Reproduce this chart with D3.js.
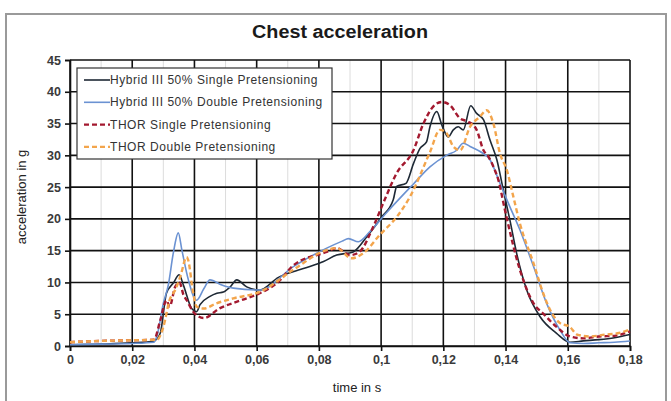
<!DOCTYPE html>
<html>
<head>
<meta charset="utf-8">
<script src="https://cdn.jsdelivr.net/npm/d3@7"></script>
<style>
  body { margin: 0; background: #fff; }
  svg { display: block; font-family: "Liberation Sans", Arial, sans-serif; }
</style>
</head>
<body>
<svg id="chart"></svg>
<script>
const width = 671,
    height = 401;
const margin = { top: 60, right: 41, bottom: 55, left: 70 };

// tick values
const xTicks = [0, 0.02, 0.04, 0.06, 0.08, 0.1, 0.12, 0.14, 0.16, 0.18];
const xMinor = [0.01, 0.03, 0.05, 0.07, 0.09, 0.11, 0.13, 0.15, 0.17];
const yTicks = [0, 5, 10, 15, 20, 25, 30, 35, 40, 45];

const seriesNames = [
    "Hybrid III 50% Single Pretensioning",
    "Hybrid III 50% Double Pretensioning",
    "THOR Single Pretensioning",
    "THOR Double Pretensioning",
];

// Hybrid III 50% single
const h3SingleT = [0, 0.01, 0.02, 0.027, 0.029, 0.031, 0.0332, 0.0351, 0.0365, 0.0391, 0.0407, 0.0418, 0.045, 0.0472, 0.0493, 0.0515, 0.0536, 0.0568, 0.061, 0.067, 0.0725, 0.0771, 0.0815, 0.0857, 0.091, 0.0954, 0.1002, 0.1039, 0.105, 0.108, 0.1104, 0.1125, 0.1146, 0.1157, 0.1179, 0.1195, 0.1216, 0.1232, 0.1248, 0.1264, 0.1288, 0.1307, 0.1329, 0.135, 0.1372, 0.1393, 0.1414, 0.1436, 0.1468, 0.1511, 0.1564, 0.1607, 0.165, 0.17, 0.175, 0.18];
const h3SingleA = [0.2, 0.3, 0.5, 0.8, 2, 8.3, 9.9, 11.2, 9.5, 5.9, 5.4, 6.5, 7.8, 8.3, 8.5, 9.3, 10.4, 9.3, 8.8, 10.8, 11.8, 12.5, 13.3, 14.3, 14.8, 17.2, 20.3, 23, 25.1, 25.6, 28.7, 31.1, 32.1, 34.5, 36.9, 34.8, 32.9, 34, 34.5, 34, 37.8, 36.6, 35.6, 32.4, 29.3, 24.5, 19.8, 14.5, 8.8, 4.6, 2, 0.6, 0.8, 1.0, 1.3, 1.8];

// Hybrid III 50% double
const h3DoubleT = [0, 0.01, 0.02, 0.027, 0.0279, 0.03, 0.0316, 0.0332, 0.0348, 0.036, 0.038, 0.0407, 0.043, 0.045, 0.0488, 0.0525, 0.061, 0.0718, 0.0825, 0.0875, 0.0895, 0.0927, 0.0964, 0.1018, 0.1104, 0.1157, 0.121, 0.1243, 0.1264, 0.1286, 0.1318, 0.135, 0.1382, 0.1414, 0.1446, 0.149, 0.1532, 0.1575, 0.1607, 0.165, 0.17, 0.175, 0.18];
const h3DoubleA = [0.2, 0.3, 0.4, 0.6, 1.5, 6.7, 9.6, 14.6, 17.8, 15, 10.5, 7.2, 9, 10.4, 9.6, 9.1, 8.8, 12.5, 15.4, 16.5, 16.9, 16.4, 18, 21, 25.5, 28.2, 30, 30.8, 31.9, 31.4, 30.6, 29.3, 25.6, 21.9, 18.3, 12.5, 6.7, 2.5, 0.5, 0.4, 0.5, 0.6, 0.8];

// THOR single
const thorSingleT = [0, 0.01, 0.02, 0.027, 0.029, 0.031, 0.032, 0.0338, 0.0352, 0.0365, 0.0375, 0.0396, 0.043, 0.048, 0.055, 0.061, 0.067, 0.0718, 0.0825, 0.0857, 0.09, 0.093, 0.0975, 0.1007, 0.105, 0.1104, 0.1136, 0.1168, 0.1195, 0.1221, 0.1254, 0.128, 0.1307, 0.1329, 0.1345, 0.1361, 0.1377, 0.1398, 0.1446, 0.149, 0.1521, 0.1564, 0.1607, 0.165, 0.17, 0.175, 0.18];
const thorSingleA = [0.6, 0.8, 0.9, 1.0, 4, 7.2, 6.2, 9.3, 10, 8, 7.2, 5.4, 4.4, 5.9, 7.2, 8.3, 10.1, 12.7, 14.8, 15.4, 14.3, 14.8, 18.8, 22.5, 27.2, 30.8, 35, 37.7, 38.4, 37.9, 35.8, 35.3, 34, 30.8, 29.8, 28.2, 26.1, 21.4, 12, 6.7, 5.1, 3, 1.5, 1.2, 1.5, 1.6, 2.3];

// THOR double
const thorDoubleT = [0, 0.01, 0.02, 0.028, 0.03, 0.032, 0.034, 0.0355, 0.0375, 0.038, 0.0396, 0.0407, 0.043, 0.047, 0.0525, 0.061, 0.0718, 0.0825, 0.0857, 0.0905, 0.0943, 0.0996, 0.105, 0.1093, 0.1157, 0.1189, 0.121, 0.1232, 0.1254, 0.1286, 0.1318, 0.1339, 0.1361, 0.1382, 0.1404, 0.1425, 0.1446, 0.149, 0.1521, 0.1543, 0.1575, 0.1607, 0.163, 0.167, 0.172, 0.176, 0.18];
const thorDoubleA = [0.6, 0.8, 0.9, 1.0, 3, 7.2, 9, 11, 14, 13.5, 8.3, 6.2, 5.9, 6.7, 7.5, 8.5, 12, 15.1, 15.4, 13.8, 14.6, 17.5, 20.3, 23.5, 30.5, 34, 33.5, 31.4, 30.8, 34.5, 36.1, 37.1, 35, 30.3, 27.7, 23.5, 19.3, 13, 8.3, 5.7, 3.6, 3, 1.8, 1.5, 1.8, 2, 2.6];

const seriesT = [h3SingleT, h3DoubleT, thorSingleT, thorDoubleT];
const seriesA = [h3SingleA, h3DoubleA, thorSingleA, thorDoubleA];
const colors = ["#1e2935", "#6b92d2", "#a3192f", "#f3a54c"];
const dashes = [null, null, "5,3", "5,3"];
const widths = [1.6, 1.6, 2.4, 2.4];

const svg = d3.select("#chart").attr("width", width).attr("height", height);

// outer chart frame
svg.append("rect")
    .attr("x", 6).attr("y", 14)
    .attr("width", 660).attr("height", 400)
    .attr("fill", "none")
    .attr("stroke", "#9a9a9a")
    .attr("stroke-width", 2);

const xScale = d3.scaleLinear().domain([0, 0.18]).range([margin.left, width - margin.right]);
const yScale = d3.scaleLinear().domain([0, 45]).range([height - margin.bottom, margin.top]);

// minor vertical gridlines
svg.append("g").selectAll("line")
    .data(xMinor)
    .enter()
    .append("line")
    .attr("x1", (d) => xScale(d)).attr("x2", (d) => xScale(d))
    .attr("y1", yScale(0)).attr("y2", yScale(45))
    .attr("stroke", "#dcdcdc")
    .attr("stroke-width", 1);

// major gridlines
svg.append("g").selectAll("line")
    .data(xTicks)
    .enter()
    .append("line")
    .attr("x1", (d) => xScale(d)).attr("x2", (d) => xScale(d))
    .attr("y1", yScale(0)).attr("y2", yScale(45))
    .attr("stroke", "#111")
    .attr("stroke-width", 1.6);

svg.append("g").selectAll("line")
    .data(yTicks)
    .enter()
    .append("line")
    .attr("x1", xScale(0)).attr("x2", xScale(0.18))
    .attr("y1", (d) => yScale(d)).attr("y2", (d) => yScale(d))
    .attr("stroke", "#111")
    .attr("stroke-width", 1.6);

// axes
const xAxis = d3.axisBottom(xScale)
    .tickValues(xTicks)
    .tickSize(5)
    .tickPadding(4)
    .tickFormat((d) => String(d).replace(".", ","));
const yAxis = d3.axisLeft(yScale)
    .tickValues(yTicks)
    .tickSize(5)
    .tickPadding(4);

const gx = svg.append("g")
    .attr("transform", `translate(0, ${height - margin.bottom})`)
    .call(xAxis);
const gy = svg.append("g")
    .attr("transform", `translate(${margin.left}, 0)`)
    .call(yAxis);

[gx, gy].forEach((g) => {
    g.select(".domain").attr("stroke", "#111").attr("stroke-width", 1.6);
    g.selectAll(".tick line").attr("stroke", "#111").attr("stroke-width", 1.6);
    g.selectAll(".tick text")
        .attr("fill", "#3a3a3a")
        .attr("font-size", 12.5)
        .attr("font-weight", "bold")
        .attr("font-family", "Liberation Sans, Arial, sans-serif");
});

// series lines
const line = d3.line()
    .x((d) => xScale(d[0]))
    .y((d) => yScale(d[1]))
    .curve(d3.curveMonotoneX);

seriesT.forEach((ts, i) => {
    const pts = ts.map((t, j) => [t, seriesA[i][j]]);
    svg.append("path")
        .datum(pts)
        .attr("fill", "none")
        .attr("stroke", colors[i])
        .attr("stroke-width", widths[i])
        .attr("stroke-dasharray", dashes[i])
        .attr("stroke-linejoin", "round")
        .attr("d", line);
});

// title + axis titles
svg.append("text")
    .attr("x", 340).attr("y", 38)
    .attr("text-anchor", "middle")
    .attr("font-size", 18)
    .attr("font-weight", "bold")
    .attr("fill", "#1a1a1a")
    .attr("textLength", 176)
    .attr("lengthAdjust", "spacingAndGlyphs")
    .text("Chest acceleration");

svg.append("text")
    .attr("transform", "translate(26, 197) rotate(-90)")
    .attr("text-anchor", "middle")
    .attr("font-size", 13)
    .attr("fill", "#222")
    .text("acceleration in g");

svg.append("text")
    .attr("x", 357).attr("y", 392)
    .attr("text-anchor", "middle")
    .attr("font-size", 13)
    .attr("fill", "#222")
    .text("time in s");

// legend
const legend = svg.append("g");
legend.append("rect")
    .attr("x", 77).attr("y", 68)
    .attr("width", 255).attr("height", 91)
    .attr("fill", "#fff")
    .attr("stroke", "#333")
    .attr("stroke-width", 1.2);

seriesNames.forEach((name, i) => {
    const y = 80 + i * 22.3;
    legend.append("line")
        .attr("x1", 84).attr("x2", 110)
        .attr("y1", y).attr("y2", y)
        .attr("stroke", colors[i])
        .attr("stroke-width", widths[i])
        .attr("stroke-dasharray", dashes[i]);
    legend.append("text")
        .attr("x", 110).attr("y", y + 4)
        .attr("font-size", 12)
        .attr("fill", "#333")
        .attr("letter-spacing", 0.55)
        .text(name);
});
</script>
</body>
</html>
